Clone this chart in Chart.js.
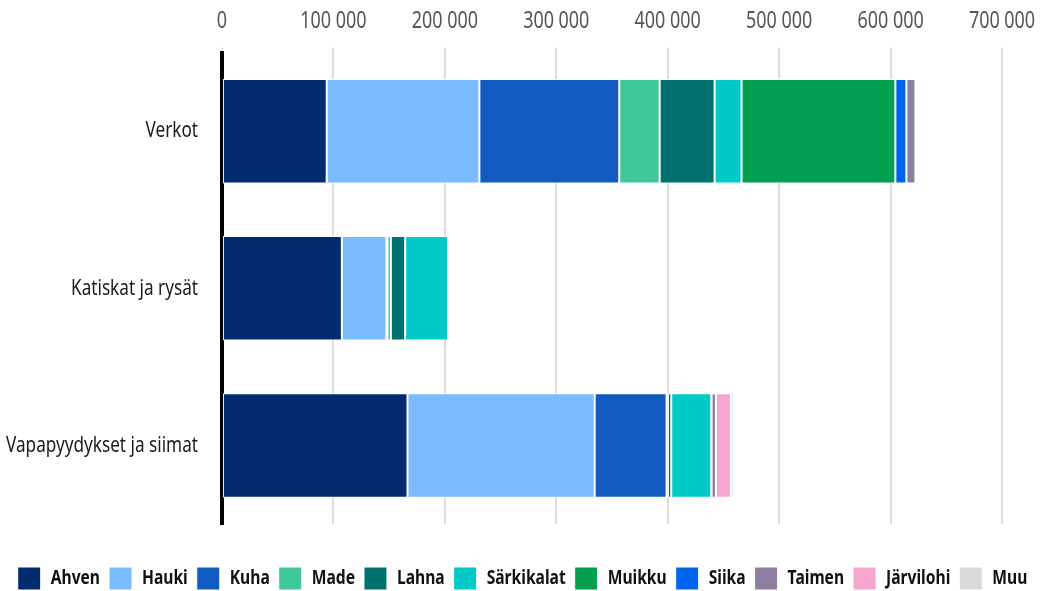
<!DOCTYPE html>
<html>
<head>
<meta charset="utf-8">
<script src="https://cdn.jsdelivr.net/npm/chart.js@4/dist/chart.umd.min.js"></script>
<style>
  html, body { margin: 0; padding: 0; background: #fff; }
  #wrap { width: 1042px; height: 591px; }
</style>
</head>
<body>
<div id="wrap"><canvas id="chart"></canvas></div>
<script>
// Pyyntivälineet
const categories = ['Verkot', 'Katiskat ja rysät', 'Vapapyydykset ja siimat'];

// Saalis lajeittain (kg), luettu kuvasta
const species = ['Ahven', 'Hauki', 'Kuha', 'Made', 'Lahna', 'Särkikalat', 'Muikku', 'Siika', 'Taimen', 'Järvilohi', 'Muu'];
const ahven      = [94000, 107600, 166500];
const hauki      = [137000, 40000, 168000];
const kuha       = [125500, 1000, 64500];
const made       = [36300, 3000, 1200];
const lahna      = [49300, 12800, 3000];
const sarkikalat = [24200, 38500, 35900];
const muikku     = [138000, 0, 0];
const siika      = [9900, 0, 300];
const taimen     = [8100, 0, 3900];
const jarvilohi  = [1300, 0, 13400];
const muu        = [500, 300, 2400];

const xTicks = [0, 100000, 200000, 300000, 400000, 500000, 600000, 700000];

const colors = ['#022c6e', '#7abcff', '#115abf', '#40c79a', '#00716e', '#00c9c6',
                '#019f4f', '#0064ec', '#8d7ea0', '#f5a6cd', '#d9d9d9'];

const seriesValues = [ahven, hauki, kuha, made, lahna, sarkikalat, muikku, siika, taimen, jarvilohi, muu];

const FONT = '"Noto Sans", "DejaVu Sans", sans-serif';
// kapeaa kirjasinta ei ole asennettu, joten teksti puristetaan vaakasuunnassa
const NARROW = 0.78;

function fmt(n) {
  return String(n).replace(/\B(?=(\d{3})+(?!\d))/g, ' ');
}

const canvas = document.getElementById('chart');
const ctx = canvas.getContext('2d');

const origFill = ctx.fillText;
const origMeasure = ctx.measureText;
ctx.fillText = function (text, x, y, maxWidth) {
  this.save();
  this.translate(x, y);
  this.scale(NARROW, 1);
  if (maxWidth === undefined) origFill.call(this, text, 0, 0);
  else origFill.call(this, text, 0, 0, maxWidth / NARROW);
  this.restore();
};
ctx.measureText = function (text) {
  const m = origMeasure.call(this, text);
  return {
    width: m.width * NARROW,
    actualBoundingBoxAscent: m.actualBoundingBoxAscent,
    actualBoundingBoxDescent: m.actualBoundingBoxDescent
  };
};

new Chart(ctx, {
  type: 'bar',
  data: {
    labels: categories,
    datasets: species.map((name, i) => ({
      label: name,
      data: seriesValues[i],
      backgroundColor: colors[i],
      borderColor: '#ffffff',
      borderWidth: 1,
      borderSkipped: false,
      categoryPercentage: 1,
      barPercentage: 0.665
    }))
  },
  options: {
    indexAxis: 'y',
    responsive: true,
    maintainAspectRatio: false,
    animation: false,
    layout: { padding: { left: 2, right: -1, top: -4, bottom: -9 } },
    plugins: {
      tooltip: { enabled: false },
      legend: {
        position: 'bottom',
        title: { display: true, text: '', font: { size: 10 }, padding: { top: 0, bottom: 22 } },
        labels: {
          boxWidth: 23,
          boxHeight: 23,
          padding: 9,
          color: '#111111',
          font: { family: FONT, size: 20, weight: 'bold' }
        }
      }
    },
    scales: {
      x: {
        position: 'top',
        stacked: true,
        min: 0,
        max: 700000,
        afterBuildTicks: axis => { axis.ticks = xTicks.map(v => ({ value: v })); },
        afterFit: axis => { axis.paddingRight = 40; },
        ticks: {
          color: '#555555',
          padding: 12,
          font: { family: FONT, size: 23 },
          callback: v => fmt(v)
        },
        grid: { color: '#dddddd', lineWidth: 2, tickLength: 5 },
        border: { display: false }
      },
      y: {
        stacked: true,
        z: 1,
        ticks: {
          color: '#1a1a1a',
          padding: 4,
          font: { family: FONT, size: 22 }
        },
        grid: { display: false, tickLength: 20 },
        border: { display: true, color: '#000000', width: 4 }
      }
    }
  }
});
</script>
</body>
</html>
